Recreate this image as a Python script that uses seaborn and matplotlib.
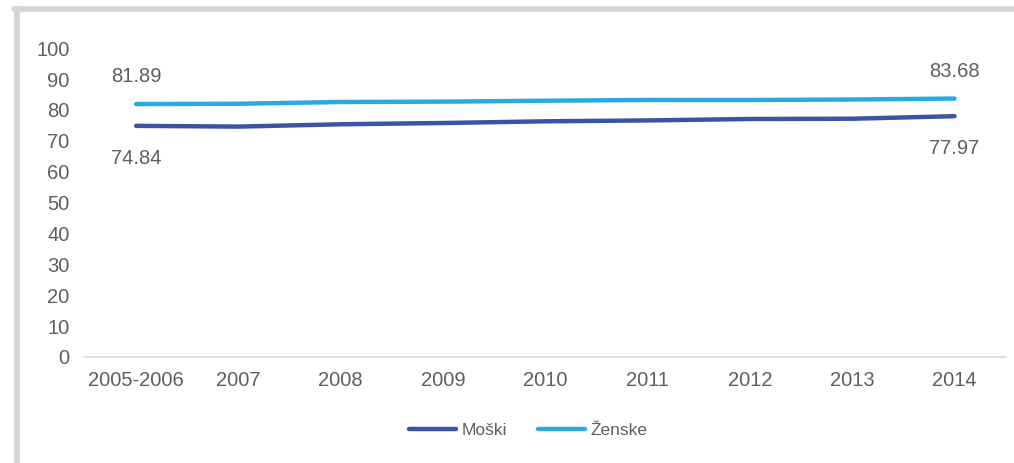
import matplotlib
matplotlib.use("Agg")
import matplotlib.pyplot as plt
import seaborn as sns
import pandas as pd
from matplotlib.lines import Line2D

years = ["2005-2006", "2007", "2008", "2009", "2010", "2011", "2012", "2013", "2014"]
moski = [74.84, 74.60, 75.35, 75.76, 76.31, 76.60, 77.06, 77.15, 77.97]
zenske = [81.89, 82.00, 82.56, 82.68, 82.98, 83.22, 83.21, 83.37, 83.68]

dark_blue = "#3a53a4"
light_blue = "#29abe2"
text_grey = "#5f5f5f"

df = pd.DataFrame({
    "Leto": years * 2,
    "Vrednost": moski + zenske,
    "Spol": ["Moški"] * len(years) + ["Ženske"] * len(years),
})

sns.set_style("white")
plt.rcParams["font.family"] = ["Liberation Sans", "DejaVu Sans"]

fig = plt.figure(figsize=(10.14, 4.63), dpi=100)
ax = fig.add_axes([0.0838, 0.229, 0.908, 0.667])

sns.lineplot(data=df, x="Leto", y="Vrednost", hue="Spol",
             palette={"Moški": dark_blue, "Ženske": light_blue},
             linewidth=3.2, ax=ax, legend=False, sort=False)
for ln in ax.get_lines():
    ln.set_solid_capstyle("round")

ax.set_ylim(0, 100)
ax.set_xlim(-0.5, len(years) - 0.5)
ax.set_yticks(range(0, 101, 10))
ax.set_xlabel("")
ax.set_ylabel("")
ax.tick_params(axis="both", length=0, labelsize=14.5, labelcolor=text_grey)
ax.tick_params(axis="y", pad=11)
ax.tick_params(axis="x", pad=10)
for s in ["top", "right", "left"]:
    ax.spines[s].set_visible(False)
ax.spines["bottom"].set_color("#d9d9d9")
ax.spines["bottom"].set_linewidth(1.2)

# labels at first and last point
for i in [0, len(years) - 1]:
    ax.annotate(f"{zenske[i]:.2f}", (i, zenske[i]), xytext=(0, 19.5),
                textcoords="offset points", ha="center", va="center",
                fontsize=14.5, color=text_grey)
    ax.annotate(f"{moski[i]:.2f}", (i, moski[i]), xytext=(0, -23.5),
                textcoords="offset points", ha="center", va="center",
                fontsize=14.5, color=text_grey)

handles = [Line2D([0], [0], color=dark_blue, lw=3.2, solid_capstyle="round"),
           Line2D([0], [0], color=light_blue, lw=3.2, solid_capstyle="round")]
fig.legend(handles, ["Moški", "Ženske"], loc="center", bbox_to_anchor=(0.521, 0.07),
           ncol=2, frameon=False, fontsize=12.5, labelcolor=text_grey,
           handlelength=2.7, handletextpad=0.3, columnspacing=1.8)

# grey frame (top and left)
frame = "#d4d4d4"
fig.add_artist(Line2D([0.0138, 1.0], [0.9795, 0.9795], color=frame, lw=4, transform=fig.transFigure))
fig.add_artist(Line2D([0.0163, 0.0163], [0.0, 0.9795], color=frame, lw=4, transform=fig.transFigure))

fig.savefig("out.png", dpi=100)
